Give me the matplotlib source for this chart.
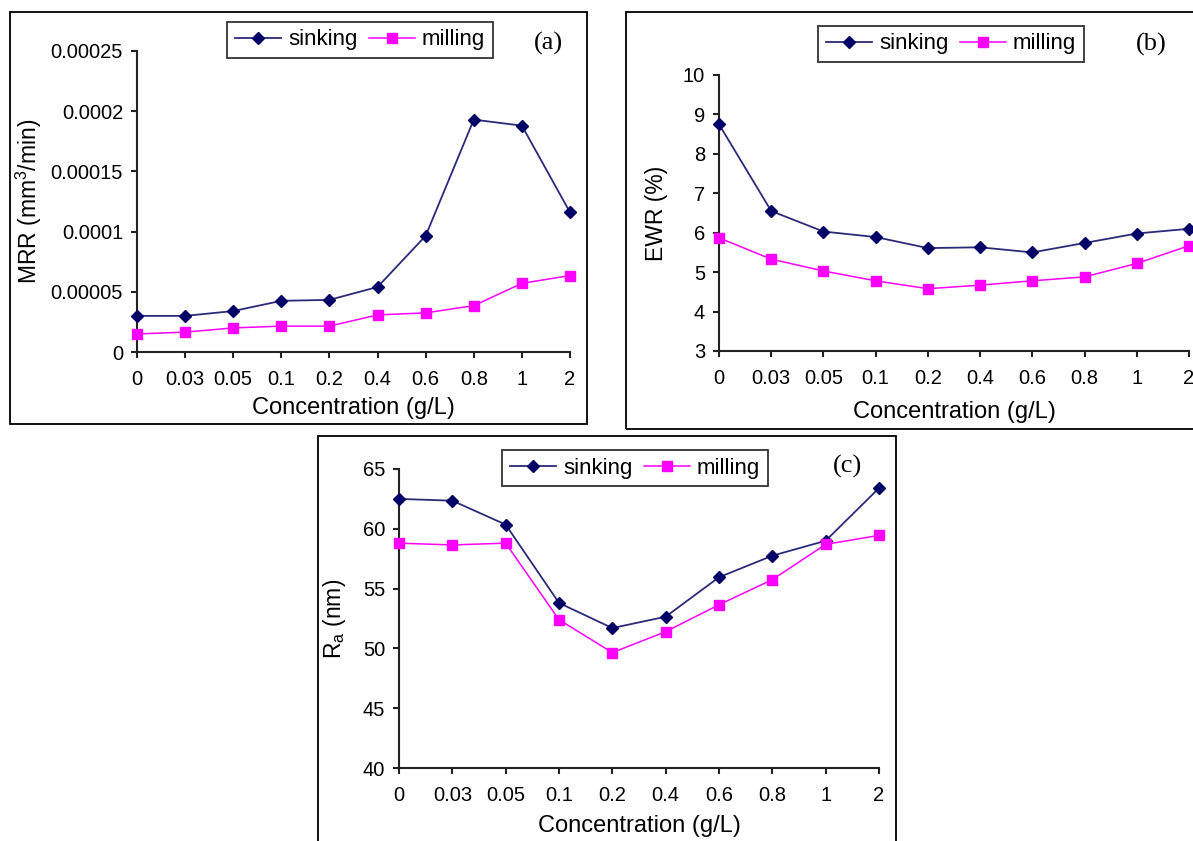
import matplotlib
matplotlib.use("Agg")
import matplotlib.pyplot as plt
from matplotlib.patches import Rectangle

# ---- data ----
conc_labels = ["0", "0.03", "0.05", "0.1", "0.2", "0.4", "0.6", "0.8", "1", "2"]

mrr_sinking = [0.000030, 0.000030, 0.000034, 0.0000425, 0.0000433, 0.000054,
               0.0000965, 0.000193, 0.000188, 0.000116]
mrr_milling = [0.000015, 0.0000165, 0.000020, 0.0000215, 0.0000215, 0.0000308,
               0.0000325, 0.0000385, 0.0000570, 0.0000635]

ewr_sinking = [8.75, 6.55, 6.03, 5.89, 5.61, 5.63, 5.50, 5.74, 5.98, 6.10]
ewr_milling = [5.87, 5.33, 5.03, 4.78, 4.58, 4.67, 4.78, 4.88, 5.22, 5.67]

ra_sinking = [62.5, 62.35, 60.35, 53.8, 51.7, 52.65, 55.95, 57.75, 59.0, 63.4]
ra_milling = [58.8, 58.65, 58.8, 52.4, 49.65, 51.4, 53.65, 55.75, 58.7, 59.45]

W, H = 1193, 841
NAVY = "#000066"
NAVY_LINE = "#2a2a78"
MAGENTA = "#ff00ff"

plt.rcParams["font.family"] = ["Liberation Sans", "DejaVu Sans"]
plt.rcParams["mathtext.fontset"] = "custom"
plt.rcParams["mathtext.rm"] = "Liberation Sans"

fig = plt.figure(figsize=(W / 100, H / 100), dpi=100)


def px_axes(x0, y0, x1, y1):
    # pixel box (top-left origin) -> figure fraction axes
    return fig.add_axes([x0 / W, 1 - y1 / H, (x1 - x0) / W, (y1 - y0) / H])


def px_frame(x0, y0, x1, y1):
    fig.patches.append(Rectangle((x0 / W, 1 - y1 / H), (x1 - x0) / W, (y1 - y0) / H,
                                 transform=fig.transFigure, fill=False,
                                 edgecolor="black", linewidth=1.3, clip_on=False))


def draw_panel(box, frame, sink, mill, ylim, yticks, ytick_fmt, ylabel, ylabel_x,
               xlabel_y, legend_c, tag, tag_pos):
    px_frame(*frame)
    ax = px_axes(*box)
    x = list(range(len(conc_labels)))
    ax.plot(x, sink, color=NAVY_LINE, linewidth=1.3, marker="D", markersize=6.5,
            markerfacecolor=NAVY, markeredgecolor=NAVY, label="sinking", clip_on=False, zorder=3)
    ax.plot(x, mill, color=MAGENTA, linewidth=1.1, marker="s", markersize=7.5,
            markerfacecolor=MAGENTA, markeredgecolor=MAGENTA, label="milling", clip_on=False, zorder=3)
    ax.set_xlim(0, len(conc_labels) - 1)
    ax.set_ylim(*ylim)
    ax.set_xticks(x)
    ax.set_xticklabels(conc_labels)
    ax.set_yticks(yticks)
    ax.set_yticklabels([ytick_fmt(v) for v in yticks])
    for s in ["top", "right"]:
        ax.spines[s].set_visible(False)
    for s in ["left", "bottom"]:
        ax.spines[s].set_linewidth(1.5)
        ax.spines[s].set_color("#222222")
    ax.tick_params(axis="both", direction="out", length=4.5, width=1.5, color="#222222",
                   labelsize=14.5)
    ax.tick_params(axis="x", pad=8.5)
    ax.tick_params(axis="y", pad=5.5)
    ax.set_facecolor("none")

    cx = (box[0] + box[2]) / 2
    fig.text(cx / W, 1 - xlabel_y / H, "Concentration (g/L)", ha="center", va="center",
             fontsize=17)
    fig.text(ylabel_x / W, 1 - (box[1] + box[3]) / 2 / H, ylabel, ha="center", va="center",
             rotation=90, fontsize=16.5)

    leg = ax.legend(loc="center", bbox_to_anchor=(legend_c[0] / W, 1 - legend_c[1] / H),
                    bbox_transform=fig.transFigure, ncol=2, fontsize=16, frameon=True,
                    fancybox=False, edgecolor="black", handlelength=2.1, handletextpad=0.3,
                    columnspacing=0.5, borderpad=0.35, markerscale=0.9)
    leg.get_frame().set_linewidth(1.3)
    fig.text(tag_pos[0] / W, 1 - tag_pos[1] / H, tag, ha="center", va="center",
             fontsize=19, family="Liberation Serif")
    return ax


def fmt_mrr(v):
    return "0" if v == 0 else ("%.5f" % v).rstrip("0")


def fmt_int(v):
    return "%d" % v


# (a) MRR
draw_panel(box=(137, 51, 570, 352), frame=(10, 12, 587, 424),
           sink=mrr_sinking, mill=mrr_milling, ylim=(0, 0.00025),
           yticks=[0, 0.00005, 0.0001, 0.00015, 0.0002, 0.00025], ytick_fmt=fmt_mrr,
           ylabel="MRR (mm$^{3}$/min)", ylabel_x=29, xlabel_y=408,
           legend_c=(360, 40), tag="(a)", tag_pos=(548, 43))

# (b) EWR
draw_panel(box=(719, 75, 1189, 351), frame=(626, 12, 1210, 429),
           sink=ewr_sinking, mill=ewr_milling, ylim=(3, 10),
           yticks=list(range(3, 11)), ytick_fmt=fmt_int,
           ylabel="EWR (%)", ylabel_x=656, xlabel_y=412,
           legend_c=(951, 44), tag="(b)", tag_pos=(1151, 44))

# (c) Ra
draw_panel(box=(399, 469, 879, 768), frame=(318, 436, 896, 860),
           sink=ra_sinking, mill=ra_milling, ylim=(40, 65),
           yticks=[40, 45, 50, 55, 60, 65], ytick_fmt=fmt_int,
           ylabel="R$_{\\mathrm{a}}$ (nm)", ylabel_x=335, xlabel_y=826,
           legend_c=(635, 468), tag="(c)", tag_pos=(848, 466))

fig.savefig("out.png", dpi=100, facecolor="white")
